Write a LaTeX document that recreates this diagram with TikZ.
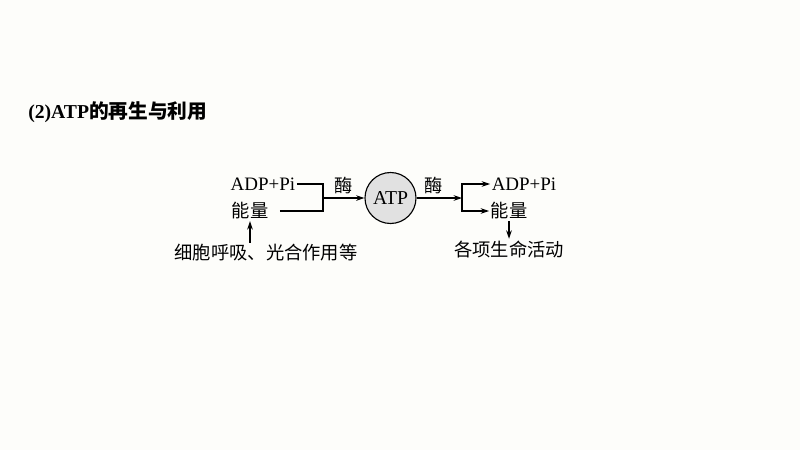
\documentclass[tikz,border=0pt]{standalone}
\usepackage{fontspec}
\setmainfont{Liberation Serif}
\newfontfamily\cjk{Noto Sans CJK SC}
\usetikzlibrary{arrows.meta}
\definecolor{paper}{RGB}{253,253,250}
\definecolor{atpgray}{RGB}{225,225,225}
\tikzset{
  lbl/.style={inner sep=1pt,font=\fontsize{13.5}{16}\selectfont},
  zh/.style={inner sep=1pt,font=\fontsize{13}{16}\selectfont\cjk},
  atpnode/.style={circle,draw,thick,fill=atpgray,minimum size=51*0.025cm,inner sep=0pt,font=\fontsize{14}{16}\selectfont},
  flow/.style={thick,-{Stealth[length=6pt,width=4pt]}},
}
\begin{document}
\begin{tikzpicture}[x=0.025cm,y=-0.025cm]
\fill[paper] (0,0) rectangle (800,450);
\useasboundingbox (0,0) rectangle (800,450);
% title
\node[inner sep=0pt,anchor=west,font=\fontsize{14}{16}\selectfont] (title) at (28,112) {\bfseries (2)ATP{\cjk\bfseries 的再生与利用}};
% left side
\node[lbl] (adpL) at (263,184) {ADP+Pi};
\node[zh] (enL) at (250,211) {能量};
\node[zh] (src) at (266,253) {细胞呼吸、光合作用等};
\coordinate (joinL) at (323,198);
\node[zh] (meiL) at (344,185) {酶};
% ATP
\node[atpnode] (atp) at (390.5,198) {ATP};
% right side
\node[zh] (meiR) at (434,185) {酶};
\coordinate (joinR) at (462,198);
\node[lbl] (adpR) at (524,184) {ADP+Pi};
\node[zh] (enR) at (509,211) {能量};
\node[zh] (use) at (509,249) {各项生命活动};
\draw[thick] (adpL.east) -| (joinL);
\draw[thick,shorten <=7pt] (enL.east) -| (joinL);
\draw[flow] (joinL) -- (atp);
\draw[flow] (atp) -- (joinR);
\draw[flow] (joinR) |- (adpR);
\draw[flow] (joinR) |- (enR);
\draw[flow] (enR) -- (use);
\draw[flow] (src.north -| enL) -- (enL);
\end{tikzpicture}
\end{document}
